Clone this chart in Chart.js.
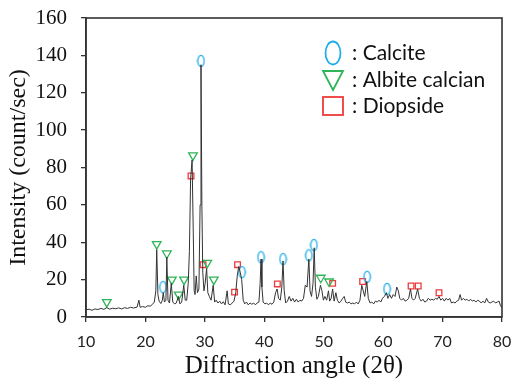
<!DOCTYPE html>
<html>
<head>
<meta charset="utf-8">
<script src="https://cdn.jsdelivr.net/npm/chart.js@4/dist/chart.umd.min.js"></script>
<style>
  html, body { margin: 0; padding: 0; background: #fff; }
</style>
</head>
<body>
<canvas id="xrd" width="512" height="385"></canvas>
<script>
// XRD pattern
var angles = [10, 10.5, 11, 11.5, 12, 12.5, 13, 13.5, 14, 14.5, 15, 15.5, 16, 16.5, 17, 17.5, 18, 18.6, 18.9, 19.1,
  19.5, 20, 20.4, 20.8, 21.2, 21.5, 21.75, 21.9, 22.1, 22.3, 22.6, 22.85, 23.0, 23.2, 23.45, 23.6, 23.8, 24.05, 24.35, 24.6,
  24.9, 25.2, 25.55, 25.8, 26.1, 26.45, 26.7, 26.95, 27.2, 27.4, 27.6, 27.85, 28.05, 28.2, 28.35, 28.55, 28.75, 29.0, 29.2, 29.35,
  29.5, 29.65, 29.85, 30.05, 30.3, 30.5, 30.75, 31.05, 31.4, 31.65, 31.9, 32.2, 32.5, 32.8, 33.1, 33.4, 33.75, 33.95, 34.3, 34.6,
  34.9, 35.2, 35.45, 35.7, 35.95, 36.2, 36.45, 36.7, 37.0, 37.3, 37.6, 37.9, 38.2, 38.5, 38.8, 39.1, 39.3, 39.45, 39.6, 39.8,
  40.1, 40.4, 40.7, 41.0, 41.3, 41.6, 41.9, 42.15, 42.4, 42.7, 42.95, 43.15, 43.35, 43.6, 43.9, 44.2, 44.5, 44.8, 45.1, 45.4,
  45.7, 46.0, 46.3, 46.6, 46.9, 47.2, 47.5, 47.7, 47.95, 48.2, 48.4, 48.6, 48.85, 49.1, 49.45, 49.7, 49.95, 50.2, 50.5, 50.8,
  51.0, 51.25, 51.5, 51.75, 52.05, 52.3, 52.6, 52.9, 53.2, 53.45, 53.7, 54.0, 54.3, 54.6, 54.9, 55.2, 55.5, 55.8, 56.1, 56.4,
  56.65, 56.9, 57.25, 57.5, 57.8, 58.1, 58.4, 58.7, 59.0, 59.3, 59.6, 59.9, 60.2, 60.55, 60.8, 61.1, 61.4, 61.7, 62.0, 62.3,
  62.55, 62.8, 63.1, 63.4, 63.7, 64.0, 64.3, 64.6, 64.85, 65.1, 65.4, 65.8, 66.1, 66.4, 66.7, 67.0, 67.3, 67.6, 67.9, 68.2,
  68.5, 68.8, 69.1, 69.4, 69.7, 70.0, 70.3, 70.6, 70.9, 71.2, 71.5, 71.8, 72.1, 72.4, 72.7, 72.95, 73.2, 73.5, 73.8, 74.1,
  74.4, 74.7, 75.0, 75.3, 75.6, 75.9, 76.2, 76.5, 76.8, 77.1, 77.4, 77.7, 78.0, 78.3, 78.6, 78.9, 79.2, 79.5, 79.75, 80];
var counts = [3.8, 4.2, 3.6, 4.3, 4.0, 4.6, 4.1, 5.0, 4.2, 4.7, 4.4, 4.9, 4.3, 5.0, 4.6, 5.2, 4.8, 5.3, 9.0, 5.2,
  5.6, 5.2, 6.0, 5.8, 6.8, 8.0, 14, 36, 12, 8.5, 7.2, 9, 13, 8, 9, 32, 9, 7.5, 18, 8,
  7, 7.5, 11, 7, 8, 17, 9, 9, 18, 35, 74, 84, 45, 14, 12, 22, 13, 15, 60, 135,
  60, 24, 14, 18, 26, 13, 11, 9, 17, 8, 9, 7.5, 8.5, 7, 8.2, 6.5, 14, 7, 6.5, 7.5,
  8.5, 13, 22, 27, 24, 20, 9, 7, 8, 6.5, 7.5, 6.8, 7.5, 6.5, 7.5, 8, 18, 31, 16, 8,
  7, 7.5, 6.5, 7.5, 6.8, 8, 13, 15, 10, 9, 16, 30, 14, 7.5, 8.5, 11, 8.5, 10, 8, 9.5,
  8, 9, 8.5, 10, 17, 16, 31, 14, 11, 18, 37, 16, 9.5, 11, 17, 14, 9, 11, 9, 14,
  8.5, 10, 15, 8.5, 13, 9, 7.5, 8.5, 10, 11, 8, 7.5, 8, 7, 7.5, 7, 8, 7, 9, 17,
  14, 11, 19, 10, 7.5, 8, 7, 8.5, 8, 9, 8, 10, 11, 13, 10, 12, 10, 12, 11, 16,
  14, 10, 9, 10, 8.5, 9, 10, 15, 10, 9, 10, 15, 10, 8.5, 9.5, 8, 8.5, 10, 9, 9.5,
  9, 10, 9.5, 11, 9, 10, 8.5, 10, 9, 10, 7.5, 8, 7.5, 8.5, 9, 12, 9, 10, 9, 9.5,
  8.5, 9.5, 8.5, 9, 8, 9, 8.5, 7.5, 8.5, 7.5, 10, 8, 7.5, 8, 8.5, 7.5, 8, 8.5, 6, 5];

// phase markers
var calciteX = [22.95, 29.35, 36.25, 39.45, 43.15, 47.5, 48.35, 57.3, 60.65];
var calciteY = [16, 137, 24, 32, 31, 33, 38.5, 21.5, 15];
var albiteX = [13.5, 21.9, 23.6, 24.45, 25.6, 26.5, 28.0, 30.4, 31.5, 49.5, 50.9];
var albiteY = [8, 39, 34, 20, 12, 20, 86.5, 29, 20, 21, 19];
var diopsideX = [27.67, 29.7, 35.0, 35.5, 42.2, 51.5, 56.55, 64.7, 65.9, 69.4];
var diopsideY = [75.5, 28, 13.3, 28, 17.7, 18, 19, 16.6, 16.6, 13];

var phaseNames = [': Calcite', ': Albite calcian', ': Diopside'];
var xTicks = [10, 20, 30, 40, 50, 60, 70, 80];
var yTicks = [0, 20, 40, 60, 80, 100, 120, 140, 160];

var BLUE = '#22aee8', GREEN = '#2fb457', RED = '#f03a3a', INK = '#333';

function pts(xs, ys) {
  return xs.map(function (x, i) { return {x: x, y: ys[i]} })
}

// small ellipse used as point style for calcite
function ellipseImg(w, h, lw) {
  var c = document.createElement('canvas');
  c.width = w; c.height = h;
  var g = c.getContext('2d');
  g.strokeStyle = BLUE;
  g.lineWidth = lw;
  g.beginPath();
  g.ellipse(w / 2, h / 2, w / 2 - lw, h / 2 - lw, 0, 0, Math.PI * 2);
  g.stroke();
  return c;
}
var calciteMark = ellipseImg(9, 14, 1.3);

// box round the plot + legend inside the plot
var framePlugin = {
  id: 'frame',
  afterDraw(chart) {
    var a = chart.chartArea, ctx = chart.ctx;
    ctx.save();
    ctx.strokeStyle = INK;
    ctx.lineWidth = 1.6;
    ctx.strokeRect(a.left, a.top, a.right - a.left, a.bottom - a.top);

    var sx = a.left + 247, tx = a.left + 266;
    var rows = [a.top + 35, a.top + 62, a.top + 88];
    ctx.lineWidth = 1.8;
    // ellipse
    ctx.strokeStyle = BLUE;
    ctx.beginPath();
    ctx.ellipse(sx, rows[0], 7.5, 11.5, 0, 0, Math.PI * 2);
    ctx.stroke();
    // triangle (pointing down)
    ctx.strokeStyle = GREEN;
    ctx.beginPath();
    ctx.moveTo(sx - 10, rows[1] - 9);
    ctx.lineTo(sx + 10, rows[1] - 9);
    ctx.lineTo(sx, rows[1] + 10);
    ctx.closePath();
    ctx.stroke();
    // square
    ctx.strokeStyle = RED;
    ctx.strokeRect(sx - 10, rows[2] - 9, 20, 18);

    ctx.fillStyle = '#111';
    ctx.font = '21px Lato';
    ctx.textBaseline = 'middle';
    phaseNames.forEach(function (t, i) { ctx.fillText(t, tx, rows[i]) });
    ctx.restore();
  }
};

new Chart(document.getElementById('xrd'), {
  type: 'line',
  data: {
    datasets: [{
      label: 'pattern',
      data: pts(angles, counts),
      borderColor: INK,
      borderWidth: 1,
      pointRadius: 0,
      tension: 0
    }, {
      label: 'Calcite',
      data: pts(calciteX, calciteY),
      showLine: false,
      pointStyle: calciteMark
    }, {
      label: 'Albite calcian',
      data: pts(albiteX, albiteY),
      showLine: false,
      pointStyle: 'triangle',
      rotation: 180,
      pointRadius: 5,
      borderColor: GREEN,
      backgroundColor: 'rgba(0,0,0,0)',
      borderWidth: 1.3
    }, {
      label: 'Diopside',
      data: pts(diopsideX, diopsideY),
      showLine: false,
      pointStyle: 'rect',
      pointRadius: 4,
      borderColor: RED,
      backgroundColor: 'rgba(0,0,0,0)',
      borderWidth: 1.3
    }]
  },
  options: {
    responsive: false,
    animation: false,
    layout: {padding: {top: 18, right: 10, left: 0, bottom: 0}},
    plugins: {legend: {display: false}, tooltip: {enabled: false}},
    scales: {
      x: {
        type: 'linear',
        min: 10, max: 80,
        afterBuildTicks: function (s) { s.ticks = xTicks.map(function (v) { return {value: v} }) },
        afterFit: function (s) {
          s.height = 385 - 317;
          s.paddingLeft = 0; s.paddingRight = 0;
        },
        grid: {drawOnChartArea: false, tickLength: 5, color: INK, lineWidth: 1.3},
        border: {color: INK, width: 1.6},
        ticks: {color: '#222', font: {family: 'Lato', size: 16}, padding: 10, maxRotation: 0},
        title: {display: true, text: 'Diffraction angle (2θ)', color: '#111',
          font: {family: 'Liberation Serif', size: 25}, padding: {top: 0}}
      },
      y: {
        min: 0, max: 160,
        afterBuildTicks: function (s) { s.ticks = yTicks.map(function (v) { return {value: v} }) },
        afterFit: function (s) {
          s.width = 86;
          s.paddingTop = 0; s.paddingBottom = 0;
        },
        grid: {drawOnChartArea: false, tickLength: 5, color: INK, lineWidth: 1.3},
        border: {color: INK, width: 1.6},
        ticks: {color: '#111', font: {family: 'Liberation Serif', size: 21}, padding: 14},
        title: {display: true, text: 'Intensity (count/sec)', color: '#111',
          font: {family: 'Liberation Serif', size: 24}, padding: {bottom: 0}}
      }
    }
  },
  plugins: [framePlugin]
});
</script>
</body>
</html>
